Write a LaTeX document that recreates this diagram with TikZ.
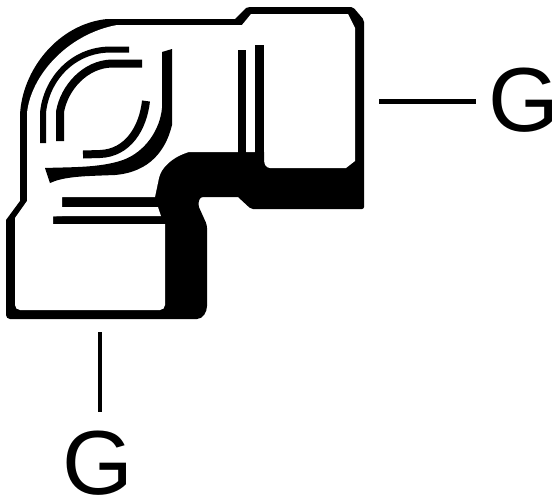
\documentclass[tikz,border=0pt]{standalone}
\usepackage{fontspec}
\setmainfont{Liberation Sans}
\tikzset{
  ink/.style={fill=black,draw=none},
  hollow/.style={fill=white,draw=none},
  stroke/.style={draw=black,line cap=butt,fill=none},
  leader/.style={draw=black},
  dimlabel/.style={font=\fontsize{91}{91}\selectfont,inner sep=0pt,text=black}
}
\begin{document}
\begin{tikzpicture}[x=1pt,y=-1pt]
\useasboundingbox (0,0) rectangle (555,499);
% silhouette
\path[ink] (107,19) -- (235,19) -- (246,8) [rounded corners=2pt] -- (248,7) -- (353,7) -- (364,20) -- (364,209) -- (251,209) [sharp corners] -- (238,197) [rounded corners=3pt] -- (200,197) -- (198,205) -- (207,225) [sharp corners] -- (207,306) .. controls (207,312) and (203,319) .. (197,319) [rounded corners=4pt] -- (6,319) [sharp corners] -- (6,220) -- (20,201) -- (20,115)
  .. controls (22,70) and (58,24) .. (107,19) -- cycle;
% upper chamber
\path[hollow] (117,25) -- (242,25) -- (251,14) -- (348,14) -- (355,28) -- (355,161) -- (346,168) -- (270,168) .. controls (266,168) and (264,164) .. (264,160) -- (264,152) -- (189,152)
  .. controls (172,157) and (161,168) .. (159,178) -- (155,197) -- (62,197) -- (62,216) -- (15,218) -- (27,201) -- (27,113)
  .. controls (31,75) and (68,34) .. (117,25) -- cycle;
% lower chamber
\path[hollow] (15,218) -- (62,207) -- (158,207) -- (161,216) -- (53,216) -- (53,224) -- (165,224) [rounded corners=5pt] -- (165,310) -- (15,310) [sharp corners] -- cycle;
% arcs
\draw[stroke,line width=6pt] (43,143) -- (43,113) .. controls (46,80) and (72,50) .. (110,49.5) -- (129,49.5);
\draw[stroke,line width=8pt] (60,141) -- (60,112) .. controls (64,88) and (85,64) .. (112,63.5) -- (142,63.5);
\draw[stroke,line width=8pt] (146,101) .. controls (143,128) and (128,153) .. (100,154) -- (83,154.5);
% J shape
\path[ink] (162,52) -- (172,49) -- (172,125) .. controls (166,150) and (150,172) .. (115,175) .. controls (90,176) and (70,176) .. (55,181) -- (50,183) -- (45,168) .. controls (70,167) and (100,168) .. (123,160) .. controls (145,152) and (160,130) .. (162,108) -- cycle;
% vertical ribs
\path[ink] (238,50) rectangle (246,155);
\path[ink] (255,45) rectangle (264,162);
\path[ink] (238,152) -- (246,152) -- (247,157) -- (254,157) -- (255,152) -- (264,152) -- (264,170) -- (238,170) -- cycle;
% labels and leaders
\node[dimlabel] (gright) at (524,100) {G};
\node[dimlabel] (gbottom) at (98,463) {G};
\coordinate (rstart) at (379,101.5);
\coordinate (bstart) at (100,332);
\draw[leader,line width=4.5pt,shorten >=12pt] (rstart) -- (gright.west |- rstart);
\draw[leader,line width=4pt,shorten >=19pt] (bstart) -- (bstart |- gbottom.north);
\end{tikzpicture}
\end{document}
